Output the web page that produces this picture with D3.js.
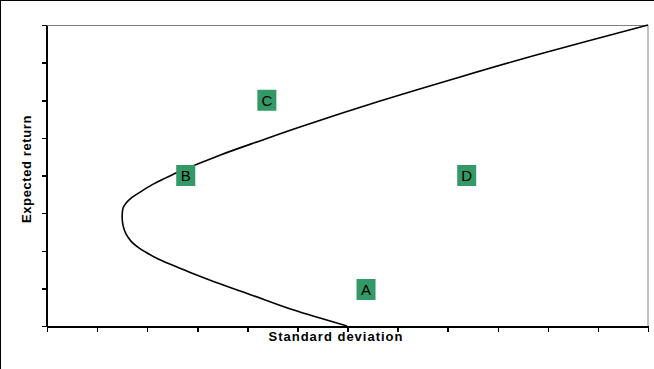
<!DOCTYPE html>
<html>
<head>
<meta charset="utf-8">
<script src="https://cdn.jsdelivr.net/npm/d3@7"></script>
<style>
  html, body { margin: 0; padding: 0; background: #fff; }
  svg { display: block; }
</style>
</head>
<body>
<svg id="chart" width="654" height="369"></svg>
<script>
// Frontier curve (standard deviation, expected return)
const frontierSD  = [5.99, 5.45, 4.91, 4.05, 3.35, 2.86, 2.50, 2.22, 2.00, 1.82, 1.68, 1.58, 1.52, 1.50,
                     1.52, 1.58, 1.68, 1.86, 2.12, 2.36, 2.60, 2.96, 3.45, 4.25, 5.05, 6.65, 8.25, 9.84, 12.0];
const frontierRet = [0.00, 0.21, 0.43, 0.84, 1.17, 1.42, 1.62, 1.78, 1.94, 2.09, 2.25, 2.44, 2.66, 2.92,
                     3.14, 3.27, 3.40, 3.56, 3.77, 3.93, 4.08, 4.28, 4.54, 4.92, 5.29, 5.98, 6.62, 7.23, 8.00];

// Labelled portfolios
const pointNames = ["C", "B", "D", "A"];
const pointSD    = [4.39, 2.77, 8.38, 6.37];
const pointRet   = [6.00, 4.00, 4.00, 0.97];

// Axis ticks (no labels shown)
const xTicks = d3.range(0, 13, 1);
const yTicks = d3.range(0, 9, 1);

const xTitle = "Standard deviation";
const yTitle = "Expected return";

const svg = d3.select("#chart");
const W = 654, H = 369;
const plot = { left: 47, top: 25, right: 648, bottom: 326 };
const font = "'Liberation Sans', Arial, Helvetica, sans-serif";

// outer frame (top/left visible)
svg.append("rect").attr("x", 0.5).attr("y", 0.5).attr("width", W + 10).attr("height", H + 10)
  .attr("fill", "#fff").attr("stroke", "#000").attr("stroke-width", 1);

const x = d3.scaleLinear().domain([0, 12]).range([plot.left, plot.right]);
const y = d3.scaleLinear().domain([0, 8]).range([plot.bottom, plot.top]);

// plot area border
svg.append("rect")
  .attr("x", plot.left + 0.5).attr("y", plot.top + 0.5)
  .attr("width", plot.right - plot.left - 0.5).attr("height", plot.bottom - plot.top)
  .attr("fill", "#fff").attr("stroke", "#808080").attr("stroke-width", 1);

// axes
const xAxis = svg.append("g").attr("transform", `translate(0,${plot.bottom + 0.5})`)
  .call(d3.axisBottom(x).tickValues(xTicks).tickSize(5).tickSizeOuter(0).tickFormat(""));
const yAxis = svg.append("g").attr("transform", `translate(${plot.left - 0.5},0)`)
  .call(d3.axisLeft(y).tickValues(yTicks).tickSize(5).tickSizeOuter(0).tickFormat(""));
[xAxis, yAxis].forEach(g => {
  g.selectAll("path, line").attr("stroke", "#000").attr("stroke-width", 1.5).attr("shape-rendering", "crispEdges");
});

// frontier curve
const pts = frontierSD.map((s, i) => [s, frontierRet[i]]);
svg.append("path")
  .datum(pts)
  .attr("d", d3.line().x(d => x(d[0])).y(d => y(d[1])).curve(d3.curveCatmullRom.alpha(0.5)))
  .attr("fill", "none").attr("stroke", "#000").attr("stroke-width", 1.6);

// labelled boxes
const bw = 19, bh = 21;
const pg = svg.append("g").selectAll("g").data(pointNames).join("g")
  .attr("transform", (d, i) => `translate(${x(pointSD[i])},${y(pointRet[i])})`);
pg.append("rect").attr("x", -bw / 2).attr("y", -bh / 2).attr("width", bw).attr("height", bh)
  .attr("fill", "#339966");
pg.append("text").text(d => d)
  .attr("text-anchor", "middle").attr("dy", "0.36em")
  .attr("font-family", font).attr("font-size", 15).attr("fill", "#000");

// axis titles
svg.append("text").text(xTitle)
  .attr("x", 336).attr("y", 341)
  .attr("text-anchor", "middle").attr("font-family", font).attr("font-weight", "bold")
  .attr("font-size", 13).attr("letter-spacing", 1).attr("fill", "#000");
svg.append("text").text(yTitle)
  .attr("transform", `translate(31,169) rotate(-90)`)
  .attr("text-anchor", "middle").attr("font-family", font).attr("font-weight", "bold")
  .attr("font-size", 13).attr("letter-spacing", 0.6).attr("fill", "#000");
</script>
</body>
</html>
